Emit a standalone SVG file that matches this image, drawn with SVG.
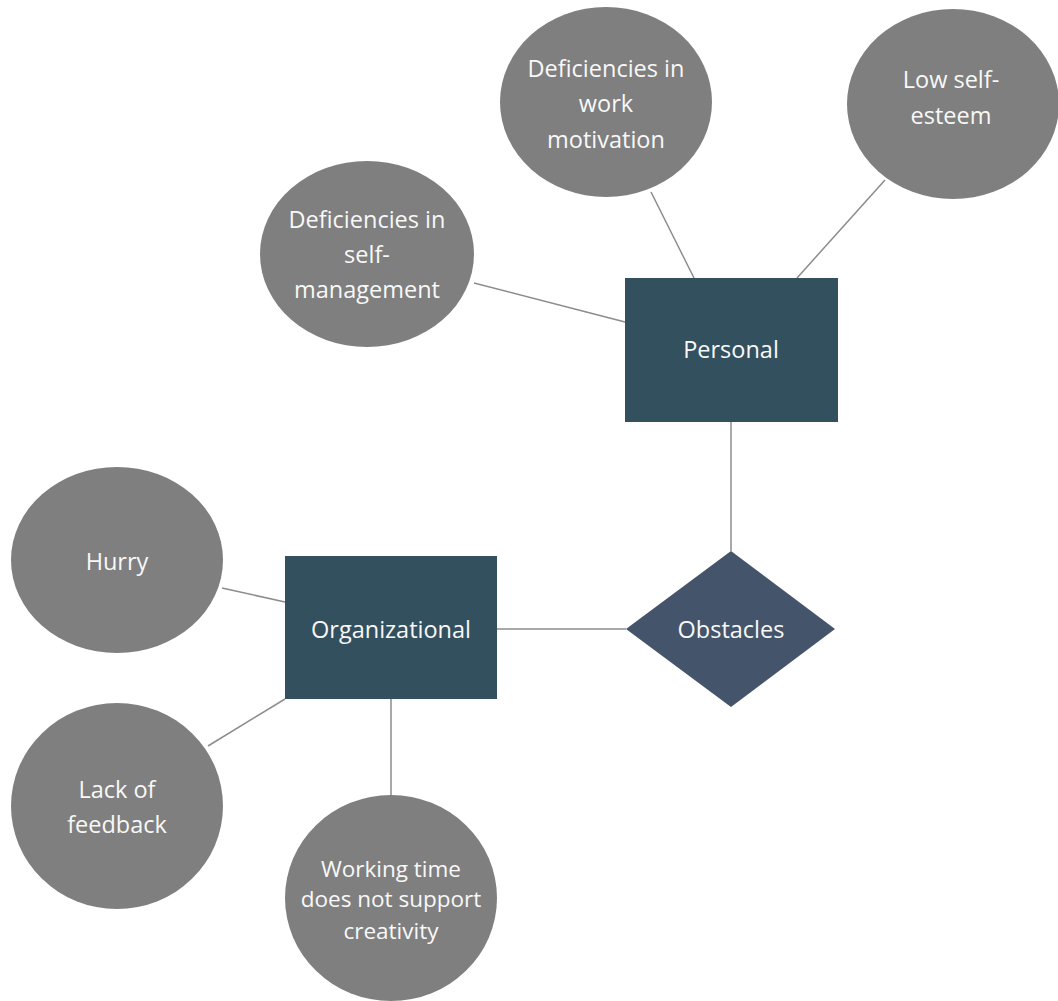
<svg xmlns="http://www.w3.org/2000/svg" width="1058" height="1001" viewBox="0 0 1058 1001">
<style>
.c{fill:#7f7f7f}
.r{fill:#33505f}
.d{fill:#44546a}
.t{fill:#f8f8f8;font-family:"Open Sans",Lato,sans-serif;font-size:23.5px;text-anchor:middle}
.s{font-size:22.5px}
.l{stroke:#8c8c8c;stroke-width:1.5;fill:none}
</style>
<rect width="1058" height="1001" fill="#ffffff"/>
<g id="connectors">
<line class="l" x1="474" y1="283" x2="625" y2="322"/>
<line class="l" x1="651" y1="192" x2="694" y2="278"/>
<line class="l" x1="885" y1="180" x2="797" y2="278"/>
<line class="l" x1="731" y1="422" x2="731" y2="551"/>
<line class="l" x1="497" y1="629" x2="626" y2="629"/>
<line class="l" x1="222" y1="588" x2="285" y2="602"/>
<line class="l" x1="208" y1="746" x2="285" y2="699"/>
<line class="l" x1="391" y1="698" x2="391" y2="796"/>
</g>
<g id="n-work-motivation">
<ellipse class="c" cx="606" cy="102" rx="106" ry="95"/>
<text class="t" x="606" y="77">Deficiencies in</text>
<text class="t" x="606" y="112">work</text>
<text class="t" x="606" y="148">motivation</text>
</g>
<g id="n-self-management">
<ellipse class="c" cx="367" cy="254" rx="107" ry="93"/>
<text class="t" x="367" y="228">Deficiencies in</text>
<text class="t" x="367" y="263">self-</text>
<text class="t" x="367" y="298">management</text>
</g>
<g id="n-self-esteem">
<ellipse class="c" cx="953" cy="104" rx="106" ry="95"/>
<text class="t" x="951" y="88">Low self-</text>
<text class="t" x="951" y="124">esteem</text>
</g>
<g id="n-personal">
<rect class="r" x="625" y="278" width="213" height="144"/>
<text class="t" x="731" y="358">Personal</text>
</g>
<g id="n-obstacles">
<polygon class="d" points="731,551 835,629 731,707 626,629"/>
<text class="t" x="731" y="638">Obstacles</text>
</g>
<g id="n-organizational">
<rect class="r" x="285" y="556" width="212" height="143"/>
<text class="t" x="391" y="638">Organizational</text>
</g>
<g id="n-hurry">
<ellipse class="c" cx="117" cy="560" rx="106" ry="93"/>
<text class="t" x="117" y="570">Hurry</text>
</g>
<g id="n-feedback">
<ellipse class="c" cx="117" cy="806" rx="106" ry="103"/>
<text class="t" x="117" y="798">Lack of</text>
<text class="t" x="117" y="833">feedback</text>
</g>
<g id="n-working-time">
<ellipse class="c" cx="391" cy="898" rx="106" ry="103"/>
<text class="t s" x="391" y="877">Working time</text>
<text class="t s" x="391" y="907">does not support</text>
<text class="t s" x="391" y="939">creativity</text>
</g>
</svg>
